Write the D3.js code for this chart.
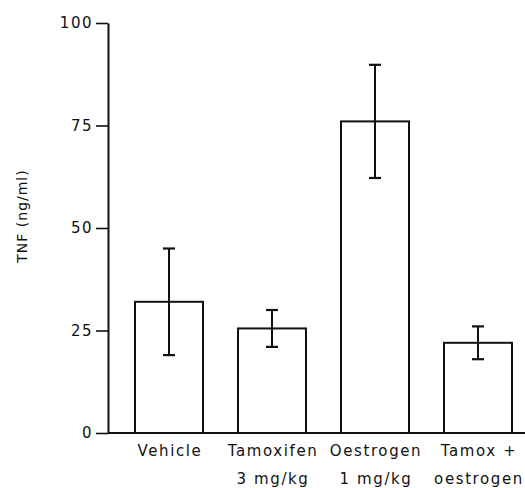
<!DOCTYPE html>
<html>
<head>
<meta charset="utf-8">
<script src="https://cdn.jsdelivr.net/npm/d3@7"></script>
<style>
  body { margin: 0; background: #fff; }
  text { font-family: "DejaVu Sans", sans-serif; fill: #111; }
</style>
</head>
<body>
<script>
'use strict';

var width  = 525;
var height = 488;

// data
var groups    = ['Vehicle', 'Tamoxifen', 'Oestrogen', 'Tamox +'];
var subLabels = ['', '3 mg/kg', '1 mg/kg', 'oestrogen'];
var means     = [32, 25.5, 76, 22];
var errors    = [13, 4.5, 13.8, 4];
var yTicks    = [0, 25, 50, 75, 100];

var svg = d3.select('body').append('svg')
    .attr('width', width)
    .attr('height', height);

var x = d3.scaleBand()
    .domain(groups)
    .range([117.5, 529.5])
    .paddingInner(0.34)
    .paddingOuter(0.17);

var y = d3.scaleLinear()
    .domain([0, 100])
    .range([433, 23]);

var axisX = 108;

// y axis
var yAxis = svg.append('g')
    .attr('transform', 'translate(' + axisX + ',0)')
    .call(d3.axisLeft(y).tickValues(yTicks).tickSize(12).tickPadding(3).tickSizeOuter(0));

yAxis.select('.domain').attr('stroke', '#111').attr('stroke-width', 2);
yAxis.selectAll('.tick line').attr('stroke', '#111').attr('stroke-width', 1.6);
yAxis.selectAll('.tick text')
    .attr('font-size', 15)
    .attr('letter-spacing', 1.5)
    .style('font-family', '"DejaVu Sans", sans-serif')
    .attr('fill', '#111');

// baseline
svg.append('line')
    .attr('x1', axisX).attr('x2', width)
    .attr('y1', y(0)).attr('y2', y(0))
    .attr('stroke', '#111').attr('stroke-width', 2);

// bars
svg.selectAll('rect.bar')
    .data(groups)
  .enter().append('rect')
    .attr('class', 'bar')
    .attr('x', function(d) { return x(d); })
    .attr('y', function(d, i) { return y(means[i]); })
    .attr('width', x.bandwidth())
    .attr('height', function(d, i) { return y(0) - y(means[i]); })
    .attr('fill', 'none')
    .attr('stroke', '#111')
    .attr('stroke-width', 2);

// error bars
var capW = 6;
groups.forEach(function(g, i) {
  var cx = x(g) + x.bandwidth() / 2;
  var top = y(means[i] + errors[i]);
  var bot = y(means[i] - errors[i]);
  svg.append('line')
    .attr('x1', cx).attr('x2', cx).attr('y1', top).attr('y2', bot)
    .attr('stroke', '#111').attr('stroke-width', 2);
  [top, bot].forEach(function(yy) {
    svg.append('line')
      .attr('x1', cx - capW).attr('x2', cx + capW).attr('y1', yy).attr('y2', yy)
      .attr('stroke', '#111').attr('stroke-width', 2.2);
  });
});

// category labels
svg.selectAll('text.cat')
    .data(groups)
  .enter().append('text')
    .attr('class', 'cat')
    .attr('x', function(d) { return x(d) + x.bandwidth() / 2 + 1; })
    .attr('y', 456)
    .attr('text-anchor', 'middle')
    .attr('font-size', 15)
    .attr('letter-spacing', 1.6)
    .text(function(d) { return d; });

svg.selectAll('text.sub')
    .data(groups)
  .enter().append('text')
    .attr('class', 'sub')
    .attr('x', function(d) { return x(d) + x.bandwidth() / 2 + 1; })
    .attr('y', 484)
    .attr('text-anchor', 'middle')
    .attr('font-size', 15)
    .attr('letter-spacing', 1.6)
    .text(function(d, i) { return subLabels[i]; });

// y title
svg.append('text')
    .attr('transform', 'translate(27,' + 216 + ') rotate(-90)')
    .attr('text-anchor', 'middle')
    .attr('font-size', 14)
    .attr('letter-spacing', 1)
    .text('TNF (ng/ml)');
</script>
</body>
</html>
